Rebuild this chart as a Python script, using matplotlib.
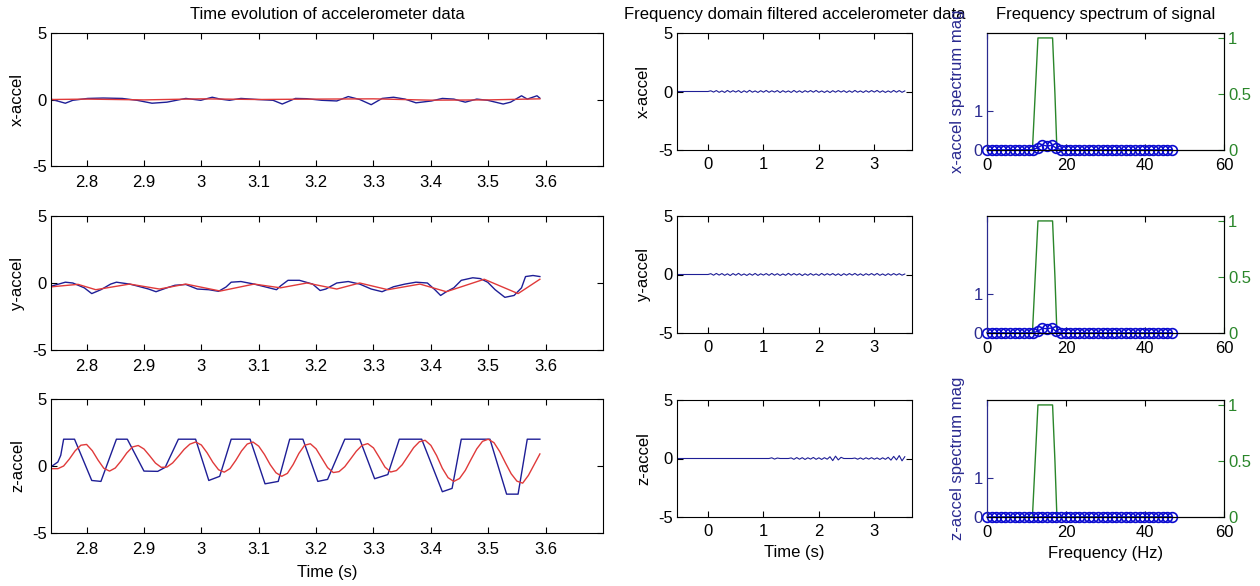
import matplotlib
matplotlib.use('Agg')
import matplotlib.pyplot as plt
import numpy as np

plt.rcParams['font.family'] = ['Liberation Sans', 'DejaVu Sans']
plt.rcParams['font.size'] = 12
plt.rcParams['axes.unicode_minus'] = False

# ---- Raw (blue) and smoothed (red) accelerometer traces ----
x_raw_t = [2.740, 2.763, 2.776, 2.802, 2.829, 2.862, 2.888, 2.914, 2.940, 2.973,
           2.999, 3.019, 3.033, 3.049, 3.069, 3.098, 3.125, 3.141, 3.164, 3.184,
           3.210, 3.236, 3.256, 3.276, 3.296, 3.315, 3.335, 3.355, 3.374, 3.401,
           3.420, 3.440, 3.460, 3.480, 3.499, 3.526, 3.539, 3.558, 3.568, 3.585,
           3.590]
x_raw_v = [0.00, -0.28, -0.06, 0.08, 0.11, 0.08, -0.06, -0.28, -0.20, 0.08,
           -0.06, 0.17, 0.03, -0.06, 0.08, 0.00, -0.06, -0.34, 0.08, 0.06,
           -0.06, -0.11, 0.22, 0.00, -0.39, 0.08, 0.17, 0.03, -0.25, -0.11,
           0.08, 0.03, -0.20, 0.03, -0.06, -0.34, -0.20, 0.28, 0.03, 0.28,
           0.10]
x_fit_t = [2.74, 2.80, 2.90, 3.00, 3.10, 3.20, 3.30, 3.40, 3.50, 3.59]
x_fit_v = [0.00, 0.03, -0.03, 0.05, 0.00, 0.03, 0.05, -0.05, -0.03, 0.05]

y_raw_t = [2.740, 2.763, 2.776, 2.796, 2.809, 2.825, 2.842, 2.852, 2.875, 2.888,
           2.908, 2.921, 2.940, 2.954, 2.973, 2.993, 3.013, 3.030, 3.043, 3.052,
           3.069, 3.092, 3.118, 3.131, 3.138, 3.151, 3.171, 3.194, 3.207, 3.217,
           3.236, 3.256, 3.276, 3.296, 3.315, 3.335, 3.355, 3.374, 3.394, 3.407,
           3.417, 3.427, 3.440, 3.453, 3.473, 3.486, 3.499, 3.512, 3.529, 3.545,
           3.558, 3.565, 3.578, 3.590]
y_raw_v = [-0.22, 0.06, 0.00, -0.36, -0.79, -0.50, -0.08, 0.06, -0.08, -0.22,
           -0.45, -0.65, -0.36, -0.17, -0.11, -0.45, -0.50, -0.62, -0.30, 0.06,
           0.11, -0.08, -0.36, -0.50, -0.22, 0.20, 0.20, -0.08, -0.56, -0.45,
           0.00, 0.11, -0.08, -0.45, -0.65, -0.28, -0.08, 0.06, 0.00, -0.50,
           -0.93, -0.65, -0.36, 0.20, 0.39, 0.33, 0.06, -0.50, -1.07, -0.93,
           -0.36, 0.48, 0.56, 0.48]
y_fit_t = [2.740, 2.785, 2.816, 2.875, 2.927, 2.973, 3.033, 3.092, 3.138, 3.184,
           3.236, 3.276, 3.325, 3.381, 3.427, 3.493, 3.552, 3.590]
y_fit_v = [-0.28, -0.10, -0.50, -0.08, -0.45, -0.08, -0.60, -0.08, -0.36, 0.00,
           -0.45, 0.00, -0.50, -0.08, -0.65, 0.28, -0.79, 0.28]

z_raw_t = [2.740, 2.750, 2.755, 2.760, 2.779, 2.809, 2.825, 2.852, 2.871, 2.900,
           2.924, 2.937, 2.960, 2.990, 3.013, 3.032, 3.052, 3.085, 3.111, 3.134,
           3.154, 3.177, 3.203, 3.220, 3.250, 3.276, 3.302, 3.325, 3.345, 3.384,
           3.420, 3.437, 3.453, 3.503, 3.532, 3.552, 3.568, 3.590]
z_raw_v = [0.00, 0.30, 0.80, 2.00, 2.00, -1.08, -1.15, 2.00, 2.00, -0.38,
           -0.40, -0.10, 2.00, 2.00, -1.08, -0.77, 2.00, 2.00, -1.33, -1.15,
           2.00, 2.00, -1.15, -1.00, 2.00, 2.00, -0.95, -0.64, 2.00, 2.00,
           -1.92, -1.67, 2.00, 2.00, -2.10, -2.10, 2.00, 2.00]
z_fit_dt = 0.01
z_fit_v = [-0.20, -0.20, 0.00, 0.52, 1.13, 1.55, 1.61, 1.14, 0.44, -0.17,
           -0.38, -0.15, 0.37, 0.97, 1.42, 1.53, 1.27, 0.76, 0.22, -0.10,
           -0.08, 0.23, 0.72, 1.24, 1.63, 1.79, 1.57, 0.99, 0.28, -0.28,
           -0.46, -0.19, 0.42, 1.12, 1.64, 1.79, 1.48, 0.86, 0.10, -0.50,
           -0.77, -0.55, 0.11, 0.94, 1.55, 1.66, 1.28, 0.58, -0.12, -0.49,
           -0.42, -0.05, 0.52, 1.10, 1.54, 1.67, 1.35, 0.65, -0.08, -0.45,
           -0.34, 0.09, 0.73, 1.37, 1.81, 1.92, 1.54, 0.78, -0.17, -0.87,
           -1.15, -0.93, -0.33, 0.49, 1.28, 1.84, 2.00, 1.74, 1.08, 0.23,
           -0.58, -1.13, -1.28, -0.70, 0.10, 0.90]
z_fit_t = 2.74 + np.arange(len(z_fit_v)) * z_fit_dt

# ---- Frequency-domain filtered signals ----
filt_start = -0.56
filt_dt = 0.05
filt_x = [0.00, 0.06, -0.05, 0.08, -0.07, 0.05, -0.08, 0.09, -0.06, 0.07,
          -0.05, 0.08, -0.09, 0.06, -0.07, 0.10, -0.06, 0.05, -0.08, 0.07,
          -0.06, 0.09, -0.07, 0.06, -0.05, 0.08, -0.09, 0.07, -0.06, 0.05,
          -0.08, 0.09, -0.07, 0.06, -0.08, 0.07, -0.05, 0.08, -0.06, 0.09,
          -0.07, 0.05, -0.08, 0.06, -0.09, 0.07, -0.06, 0.08, -0.05, 0.07,
          -0.08, 0.06, -0.07, 0.09, -0.06, 0.05, -0.08, 0.07, -0.06, 0.08,
          -0.05, 0.09, -0.07, 0.06, -0.08, 0.05, -0.07, 0.09, -0.06, 0.08,
          -0.07, 0.05]
filt_y = [0.00, 0.07, -0.06, 0.09, -0.05, 0.08, -0.07, 0.06, -0.09, 0.08,
          -0.06, 0.10, -0.07, 0.05, -0.08, 0.07, -0.06, 0.09, -0.08, 0.06,
          -0.05, 0.08, -0.07, 0.09, -0.06, 0.07, -0.08, 0.05, -0.07, 0.10,
          -0.06, 0.08, -0.05, 0.07, -0.09, 0.06, -0.07, 0.08, -0.06, 0.05,
          -0.08, 0.09, -0.06, 0.07, -0.05, 0.08, -0.07, 0.06, -0.09, 0.07,
          -0.06, 0.08, -0.05, 0.09, -0.07, 0.06, -0.08, 0.07, -0.05, 0.08,
          -0.06, 0.09, -0.07, 0.05, -0.08, 0.07, -0.06, 0.08, -0.05, 0.07,
          -0.06, 0.04]
filt_z = [0.00, 0.00, 0.00, 0.00, 0.00, 0.00, 0.00, 0.00, 0.00, 0.00,
          0.00, 0.00, 0.00, 0.00, 0.00, 0.00, 0.00, 0.00, 0.00, 0.00,
          0.00, 0.00, 0.00, 0.06, -0.05, 0.04, 0.00, 0.00, 0.00, 0.00,
          0.05, -0.07, 0.08, -0.06, 0.07, -0.08, 0.06, -0.05, 0.09, -0.07,
          0.06, -0.08, 0.07, -0.06, 0.15, -0.18, 0.20, -0.12, 0.10, 0.00,
          0.00, 0.00, 0.00, 0.04, -0.06, 0.05, -0.07, 0.06, -0.05, 0.07,
          -0.06, 0.05, -0.08, 0.06, -0.07, 0.10, -0.14, 0.18, -0.12, 0.25,
          -0.20, 0.15]

# ---- Spectra and band-pass filter ----
spec_freq = [0.00, 1.17, 2.34, 3.51, 4.68, 5.85, 7.02, 8.19, 9.36, 10.53,
             11.70, 12.87, 14.04, 15.21, 16.38, 17.55, 18.72, 19.89, 21.06, 22.23,
             23.40, 24.57, 25.74, 26.91, 28.08, 29.25, 30.42, 31.59, 32.76, 33.93,
             35.10, 36.27, 37.44, 38.61, 39.78, 40.95, 42.12, 43.29, 44.46, 45.63,
             46.80]
spec_x = [0.01, 0.0, 0.01, 0.0, 0.0, 0.01, 0.0, 0.0, 0.01, 0.0,
          0.01, 0.06, 0.13, 0.10, 0.12, 0.05, 0.01, 0.0, 0.0, 0.01,
          0.0, 0.0, 0.01, 0.0, 0.0, 0.0, 0.01, 0.0, 0.0, 0.0,
          0.01, 0.0, 0.0, 0.0, 0.0, 0.01, 0.0, 0.0, 0.0, 0.0,
          0.01]
spec_y = [0.01, 0.0, 0.0, 0.01, 0.0, 0.0, 0.01, 0.0, 0.0, 0.01,
          0.0, 0.05, 0.12, 0.11, 0.13, 0.04, 0.0, 0.01, 0.0, 0.0,
          0.01, 0.0, 0.0, 0.0, 0.01, 0.0, 0.0, 0.01, 0.0, 0.0,
          0.0, 0.01, 0.0, 0.0, 0.0, 0.0, 0.01, 0.0, 0.0, 0.0,
          0.01]
spec_z = [0.0, 0.0, 0.0, 0.0, 0.0, 0.0, 0.0, 0.0, 0.0, 0.0,
          0.0, 0.0, 0.01, 0.01, 0.01, 0.0, 0.0, 0.0, 0.0, 0.0,
          0.0, 0.0, 0.0, 0.0, 0.0, 0.0, 0.0, 0.0, 0.0, 0.0,
          0.0, 0.0, 0.0, 0.0, 0.0, 0.0, 0.0, 0.0, 0.0, 0.0,
          0.0]
band_f = [0.0, 11.5, 12.2, 12.9, 16.6, 17.2, 17.7, 46.8]
band_gain = [0.0, 0.0, 0.5, 1.0, 1.0, 0.5, 0.0, 0.0]

axis_names = ['x-accel', 'y-accel', 'z-accel']
spec_labels = ['x-accel spectrum mag', '', 'z-accel spectrum mag']
time_ticks = [2.8, 2.9, 3.0, 3.1, 3.2, 3.3, 3.4, 3.5, 3.6]
time_tick_labels = ['2.8', '2.9', '3', '3.1', '3.2', '3.3', '3.4', '3.5', '3.6']

BLUE = '#1e1e96'
MBLUE = '#0c0cd0'
RED = '#e03a3a'
GREEN = '#2a862a'
LBLUE = '#2a2a90'

W, H = 1260, 586
fig = plt.figure(figsize=(W / 100, H / 100), dpi=100, facecolor='white')


def px_axes(x0, y0, x1, y1):
    return fig.add_axes([x0 / W, 1 - y1 / H, (x1 - x0) / W, (y1 - y0) / H])


def matlab_style(ax, xpad):
    ax.tick_params(direction='in', length=4, top=True, right=True, pad=3,
                   labelsize=12, width=0.8)
    ax.tick_params(axis='x', pad=xpad)
    for s in ax.spines.values():
        s.set_linewidth(0.8)


left_rows = [(33, 166), (216, 350), (399, 533)]
small_rows = [(33, 150), (216, 333), (400, 517)]
raw = [(x_raw_t, x_raw_v), (y_raw_t, y_raw_v), (z_raw_t, z_raw_v)]
fit = [(x_fit_t, x_fit_v), (y_fit_t, y_fit_v), (z_fit_t, z_fit_v)]
filt = [filt_x, filt_y, filt_z]
spec = [spec_x, spec_y, spec_z]

for i in range(3):
    # ---- time evolution ----
    ax = px_axes(51, left_rows[i][0], 603, left_rows[i][1])
    ax.plot(raw[i][0], raw[i][1], color=BLUE, lw=1.0)
    ax.plot(fit[i][0], fit[i][1], color=RED, lw=1.0)
    ax.set_xlim(2.738, 3.70)
    ax.set_ylim(-5, 5)
    ax.set_xticks(time_ticks)
    ax.set_xticklabels(time_tick_labels)
    ax.set_yticks([-5, 0, 5])
    ax.set_yticklabels(['-5', '0', '5'])
    ax.set_ylabel(axis_names[i], labelpad=5)
    matlab_style(ax, 6.5)
    if i == 0:
        ax.set_title('Time evolution of accelerometer data', fontsize=12, pad=10)
    if i == 2:
        ax.set_xlabel('Time (s)', labelpad=6)

    # ---- filtered signal ----
    ax = px_axes(677, small_rows[i][0], 912, small_rows[i][1])
    ft = np.concatenate([[filt_start], np.arange(len(filt[i])) * filt_dt])
    fv = np.concatenate([[0.0], filt[i]])
    ax.plot(ft, fv, color=BLUE, lw=0.8)
    ax.set_xlim(-0.56, 3.68)
    ax.set_ylim(-5, 5)
    ax.set_xticks([0, 1, 2, 3])
    ax.set_yticks([-5, 0, 5])
    ax.set_yticklabels(['-5', '0', '5'])
    ax.set_ylabel(axis_names[i], labelpad=5)
    matlab_style(ax, 5)
    if i == 0:
        ax.set_title('Frequency domain filtered accelerometer data',
                     fontsize=12, pad=10)
    if i == 2:
        ax.set_xlabel('Time (s)', labelpad=4.5)

    # ---- spectrum with filter ----
    ax = px_axes(987, small_rows[i][0], 1224, small_rows[i][1])
    ax2 = ax.twinx()
    ax.plot(spec_freq, spec[i], '-o', color=MBLUE, mfc='none', mec=MBLUE,
            ms=7, lw=1.0, mew=1.2, clip_on=False)
    ax2.plot(band_f, band_gain, color=GREEN, lw=1.0)
    ax.set_zorder(ax2.get_zorder() + 1)
    ax.patch.set_visible(False)
    ax.set_xlim(0, 60)
    ax.set_ylim(0, 3)
    ax2.set_ylim(0, 1.044)
    ax.set_xticks([0, 20, 40, 60])
    ax.set_yticks([0, 1])
    ax2.set_yticks([0, 0.5, 1])
    ax2.set_yticklabels(['0', '0.5', '1'])
    ax.tick_params(direction='in', length=4, top=True, right=False, pad=3,
                   labelsize=12, width=0.8)
    ax.tick_params(axis='x', pad=5.5)
    ax.tick_params(axis='y', colors=LBLUE)
    ax2.tick_params(direction='in', length=4, pad=3, labelsize=12, width=0.8,
                    colors=GREEN)
    ax2.tick_params(axis='x', bottom=False, top=False)
    for s in ax.spines.values():
        s.set_linewidth(0.8)
    for s in ax2.spines.values():
        s.set_linewidth(0.8)
    ax.spines['left'].set_color(LBLUE)
    ax2.spines['left'].set_color(LBLUE)
    ax2.spines['right'].set_color(GREEN)
    if spec_labels[i]:
        ax.set_ylabel(spec_labels[i], color=LBLUE, labelpad=6)
    if i == 0:
        ax.set_title('Frequency spectrum of signal', fontsize=12, pad=10)
    if i == 2:
        ax.set_xlabel('Frequency (Hz)', labelpad=4.5)

fig.savefig('out.png', dpi=100, facecolor='white')
